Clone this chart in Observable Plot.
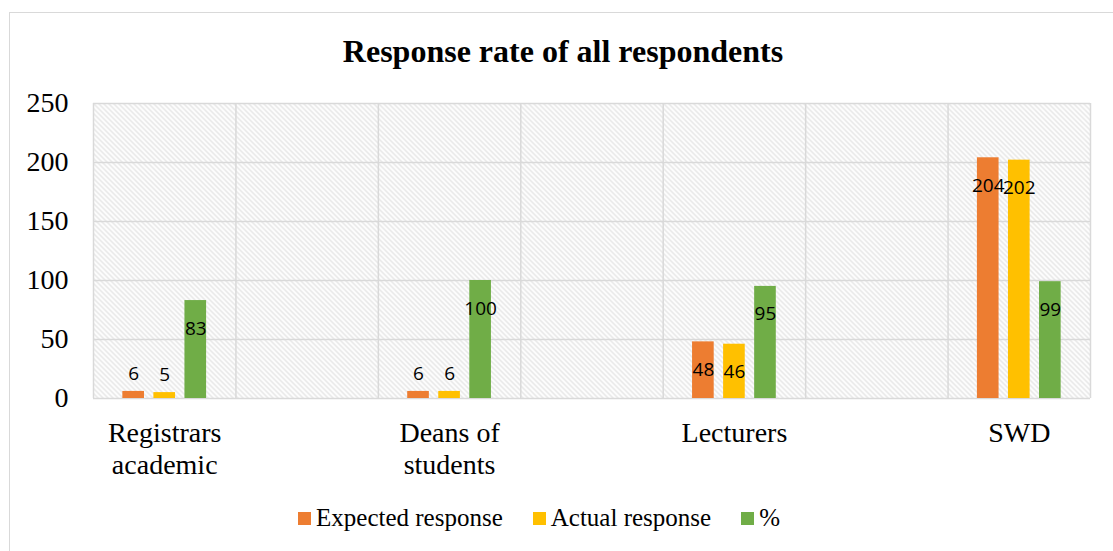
<!DOCTYPE html>
<html><head><meta charset="utf-8">
<script src="https://cdn.jsdelivr.net/npm/d3@7"></script>
<script src="https://cdn.jsdelivr.net/npm/@observablehq/plot@0.6"></script>
<style>
html,body{margin:0;padding:0;background:#fff;}
#wrap{position:relative;width:1113px;height:551px;overflow:hidden;font-family:"Liberation Serif","Times New Roman",serif;color:#000;}
#box{position:absolute;left:9px;top:12px;width:1300px;height:700px;border:1px solid #d9d9d9;box-sizing:border-box;}
#title{position:absolute;left:0;width:1126px;top:36px;text-align:center;font-weight:bold;font-size:32px;line-height:31px;white-space:nowrap;}
#chart{position:absolute;left:0;top:0;}
#legend{position:absolute;left:0;width:1078px;top:503px;display:flex;justify-content:center;align-items:center;font-size:25px;line-height:30px;white-space:nowrap;}
#legend .item{display:flex;align-items:center;margin:0 15px;}
#legend .sw{width:13px;height:13px;margin-right:5px;}
#chart svg text{font-family:"Liberation Serif","Times New Roman",serif;}
#chart svg text.lbl, #chart svg g.lbl text{font-family:"Open Sans",sans-serif;}
</style>
</head><body>
<div id="wrap">
  <div id="box"></div>
  <div id="title">Response rate of all respondents</div>
  <div id="chart"></div>
  <div id="legend"></div>
</div>
<script>
const categories = ["Registrars\nacademic", "Deans of\nstudents", "Lecturers", "SWD"];
const seriesNames = ["Expected response", "Actual response", "%"];
const seriesColors = ["#ED7D31", "#FFC000", "#70AD47"];
const expected = [6, 6, 48, 204];
const actual = [5, 6, 46, 202];
const percent = [83, 100, 95, 99];
const yTicks = [0, 50, 100, 150, 200, 250];

const seriesValues = [expected, actual, percent];
const rows = [];
categories.forEach((c, ci) => {
  seriesValues.forEach((vals, si) => {
    rows.push({cat: c, ci, series: seriesNames[si], si, value: vals[ci]});
  });
});

// layout constants (in x-scale units: one category slot = 1)
const STEP = 0.109, HALF = 0.038, OFF = 0.25;
const xGrid = d3.range(0, 3.5001, 0.5);
const cx = d => d.ci + OFF + (d.si - 1) * STEP;
const serif = '"Liberation Serif", "Times New Roman", serif';

const chart = Plot.plot({
  width: 1113,
  height: 470,
  marginTop: 103,
  marginBottom: 72,
  marginLeft: 93,
  marginRight: 23,
  style: {fontFamily: serif, fontSize: "28px", background: "transparent", color: "#000", overflow: "visible"},
  x: {type: "linear", domain: [0, 3.5]},
  y: {domain: [0, 250]},
  color: {domain: seriesNames, range: seriesColors},
  marks: [
    Plot.frame({fill: "url(#hatch)", stroke: "none"}),
    Plot.ruleY(yTicks, {stroke: "#d9d9d9", strokeWidth: 1.5}),
    Plot.ruleX(xGrid, {stroke: "#d9d9d9", strokeWidth: 1.5}),
    Plot.rectY(rows, {x1: d => cx(d) - HALF, x2: d => cx(d) + HALF, y1: 0, y2: "value", fill: "series"}),
    Plot.text(rows.filter(d => d.value >= 30), {x: cx, y: "value", text: d => String(d.value), dy: 28, fill: "#000", fontSize: 19, lineAnchor: "middle", className: "lbl"}),
    Plot.text(rows.filter(d => d.value < 30), {x: cx, y: "value", text: d => String(d.value), dy: -18, fill: "#000", fontSize: 19, lineAnchor: "middle", className: "lbl"}),
    Plot.axisY({ticks: yTicks, tickSize: 0, tickPadding: 25, label: null, fontSize: 28, fontFamily: serif}),
    Plot.axisX({ticks: categories.map((c, i) => i + OFF), tickFormat: v => categories[Math.round(v - OFF)], tickSize: 0, tickPadding: 21, label: null, fontSize: 28, lineHeight: 1.13, fontFamily: serif})
  ]
});

const svg = d3.select(chart);
const defs = svg.insert("defs", ":first-child");
const pat = defs.append("pattern").attr("id", "hatch").attr("patternUnits", "userSpaceOnUse").attr("width", 5).attr("height", 5);
pat.append("rect").attr("width", 5).attr("height", 5).attr("fill", "#fff");
pat.append("path").attr("d", "M0,0L5,5M-1,4L1,6M4,-1L6,1").attr("stroke", "#e2e2e2").attr("stroke-width", 1.3);

document.getElementById("chart").appendChild(chart);

const legend = d3.select("#legend");
seriesNames.forEach((s, i) => {
  const it = legend.append("div").attr("class", "item");
  it.append("div").attr("class", "sw").style("background", seriesColors[i]);
  it.append("span").text(s);
});
</script>
</body></html>
